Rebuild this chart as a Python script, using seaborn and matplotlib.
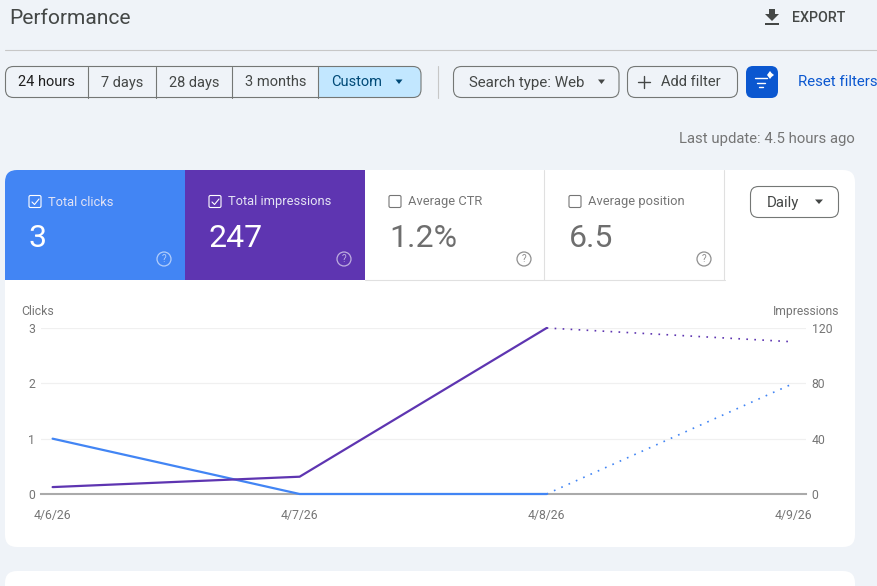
import matplotlib
matplotlib.use("Agg")
import matplotlib.pyplot as plt
from matplotlib.patches import FancyBboxPatch, Rectangle, Circle, Polygon
import pandas as pd
import seaborn as sns

# ---- data ----
date_labels = ["4/6/26", "4/7/26", "4/8/26", "4/9/26"]
day_index = [0, 1, 2, 3]
clicks = [1, 0, 0, 2]
impressions = [5, 12.5, 120, 110]
solid_days = 3          # first three days are final data, the rest is dotted (fresh)
click_ticks = [0, 1, 2, 3]
impression_ticks = [0, 40, 80, 120]
range_tabs = ["24 hours", "7 days", "28 days", "3 months"]
metric_names = ["Total clicks", "Total impressions", "Average CTR", "Average position"]
metric_values = ["3", "247", "1.2%", "6.5"]

# ---- style ----
sns.set_theme(style="white")
plt.rcParams["font.family"] = ["Roboto", "DejaVu Sans"]
BG = "#eff3f8"
BLUE = "#4285f4"
PURPLE = "#5e35b1"
GRID = "#f0f0f0"
AXIS = "#aaaaaa"
MUTED = "#757575"
DARK = "#444746"
BORDER = "#747775"
PX = 0.72  # font points per pixel at dpi 100

W, H = 877, 586
fig = plt.figure(figsize=(W / 100, H / 100), dpi=100, facecolor=BG)
ui = fig.add_axes([0, 0, 1, 1], zorder=0)
ui.set_xlim(0, W)
ui.set_ylim(H, 0)
ui.axis("off")


def rbox(x0, y0, x1, y1, r, fc="none", ec="none", lw=1.0, z=2):
    p = FancyBboxPatch((x0 + r, y0 + r), x1 - x0 - 2 * r, y1 - y0 - 2 * r,
                       boxstyle=f"round,pad={r},rounding_size={r}",
                       fc=fc, ec=ec, lw=lw, zorder=z)
    ui.add_patch(p)
    return p


def label(x, y, s, size, color=DARK, ha="left", weight="normal", z=5, **kw):
    ui.text(x, y, s, fontsize=size * PX, color=color, ha=ha, va="center",
            fontweight=weight, zorder=z, **kw)


def caret(cx, cy, color=DARK, half=4):
    ui.add_patch(Polygon([(cx - half, cy - 2), (cx + half, cy - 2), (cx, cy + 2.5)],
                         fc=color, ec="none", zorder=5))


# header
label(9, 18.5, "Performance", 21, DARK)
label(792, 17.5, "EXPORT", 14.3, DARK, weight="medium")
ui.add_patch(Polygon([(769, 9), (775, 9), (775, 14), (779, 14), (772, 21), (765, 14), (769, 14)],
                     fc=DARK, ec="none", zorder=5))
ui.add_patch(Rectangle((765, 22.5), 14, 2, fc=DARK, ec="none", zorder=5))
ui.plot([5, W], [49.5, 49.5], color="#c7c7c7", lw=0.8, zorder=2)

# segmented range control
seg = rbox(5.5, 66.5, 421, 97.5, 8, fc="none", ec=BORDER, lw=0.8, z=4)
fill = Rectangle((318.5, 66.5), 103, 31, fc="#c2e7ff", ec="none", zorder=3)
ui.add_patch(fill)
fill.set_clip_path(seg)
for xd in [88, 156, 232, 318]:
    ui.plot([xd, xd], [66.5, 97.5], color=BORDER, lw=0.8, zorder=4)
for xc, s, col in zip([46.5, 122, 194.5, 275.5], range_tabs, ["#1f1f1f", DARK, DARK, DARK]):
    label(xc, 82.5, s, 14.6, col, ha="center")
label(331, 82.5, "Custom", 14.6, "#004a77")
caret(399, 81.5, "#004a77", 3.5)
ui.plot([437.5, 437.5], [66, 98], color="#c7c7c7", lw=0.8, zorder=2)

# filters
rbox(453.5, 66.5, 619, 97.5, 8, ec=BORDER, lw=0.8)
label(469, 82.5, "Search type: Web", 15.1, DARK)
caret(601.5, 81.5, DARK, 3.5)
rbox(627.5, 66.5, 737.5, 97.5, 8, ec=BORDER, lw=0.8)
ui.plot([638, 650], [82, 82], color=DARK, lw=1.0, zorder=5)
ui.plot([644, 644], [76, 88], color=DARK, lw=1.0, zorder=5)
label(661, 82.5, "Add filter", 14.8, DARK)
rbox(746, 66, 778, 98, 7, fc="#0b57d0")
for yy, x0, x1 in [(78, 755, 767), (82.5, 757, 765), (87, 759, 763)]:
    ui.plot([x0, x1], [yy, yy], color="white", lw=1.0, zorder=5)
ui.add_patch(Polygon([(767, 75), (768.5, 73), (770, 71), (771.5, 73), (774, 75),
                      (771.5, 77), (770, 79), (768.5, 77)], fc="white", ec="none", zorder=5))
label(798, 82.5, "Reset filters", 15, "#0b57d0")
label(855, 138.5, "Last update: 4.5 hours ago", 14.9, MUTED, ha="right")

# cards
rbox(5, 170, 855, 547, 12, fc="white", z=1)
rbox(5, 571, 855, 640, 12, fc="white", z=1)
ui.set_ylim(H, 0)

# metric tiles
tile_x = [5, 185, 365, 545]
tile_bg = [BLUE, PURPLE, None, None]
clip_card = FancyBboxPatch((17, 182), 826, 353, boxstyle="round,pad=12,rounding_size=12",
                           fc="none", ec="none", transform=ui.transData)
ui.add_patch(clip_card)
for x0, bg, name, val in zip(tile_x, tile_bg, metric_names, metric_values):
    on = bg is not None
    if on:
        r = Rectangle((x0, 170), 180, 110, fc=bg, ec="none", zorder=2)
        ui.add_patch(r)
        r.set_clip_path(clip_card)
    fg = "white" if on else MUTED
    ui.add_patch(FancyBboxPatch((x0 + 24.5, 196), 11, 11,
                                boxstyle="round,pad=0.5,rounding_size=1.5",
                                fc="none", ec=fg, lw=0.8, zorder=5))
    if on:
        ui.plot([x0 + 27, x0 + 29.5, x0 + 34], [202, 204.5, 199], color="white", lw=0.8, zorder=5)
    label(x0 + 43, 202, name, 12.9, "#e4e4f4" if on else MUTED)
    label(x0 + 24, 238.5, val, 32, "white" if on else "#6e6e6e")
    hc = "#ffffff99" if on else "#8f8f8f"
    ui.add_patch(Circle((x0 + 159, 259), 7, fc="none", ec=hc, lw=0.9, zorder=5))
    label(x0 + 159, 259.5, "?", 10, hc, ha="center")
ui.plot([365, 724.5], [280, 280], color="#e0e0e0", lw=0.8, zorder=2)
for xd in [544, 724]:
    ui.plot([xd, xd], [170, 280], color="#e0e0e0", lw=0.8, zorder=2)

# Daily dropdown
rbox(750.5, 186.5, 838.5, 217.5, 8, ec=BORDER, lw=0.8)
label(767, 202.5, "Daily", 15, DARK)
caret(819, 201.5, DARK, 4)

# axis titles
label(21, 311.5, "Clicks", 12.2, MUTED)
label(839, 311.5, "Impressions", 12.1, MUTED, ha="right")

# ---- chart ----
L, R, T, B = 41, 806, 328, 494
ax = fig.add_axes([L / W, 1 - B / H, (R - L) / W, (B - T) / H], zorder=2)
ax.patch.set_alpha(0)
ax2 = ax.twinx()
ax2.patch.set_alpha(0)

df = pd.DataFrame({"day": day_index, "clicks": clicks, "impressions": impressions})
solid = df.iloc[:solid_days]
fresh = df.iloc[solid_days - 1:]
dots = (0, (1, 3.8))

sns.lineplot(data=solid, x="day", y="clicks", ax=ax, color=BLUE, lw=1.6, clip_on=False, zorder=4)
sns.lineplot(data=fresh, x="day", y="clicks", ax=ax, color=BLUE, lw=1.2, linestyle=dots, clip_on=False, zorder=4)
sns.lineplot(data=solid, x="day", y="impressions", ax=ax2, color=PURPLE, lw=1.6, clip_on=False, zorder=4)
sns.lineplot(data=fresh, x="day", y="impressions", ax=ax2, color=PURPLE, lw=1.2, linestyle=dots, clip_on=False, zorder=4)

ax.set_xlim(-0.047, 3.05)
ax.set_ylim(0, 3)
ax2.set_ylim(0, 120)
ax.set_xticks(day_index)
ax.set_xticklabels(date_labels)
ax.set_yticks(click_ticks)
ax2.set_yticks(impression_ticks)
ax.set_xlabel("")
ax.set_ylabel("")
ax2.set_ylabel("")
ax.grid(axis="y", color=GRID, lw=0.9)
ax.grid(axis="x", visible=False)
ax2.grid(False)
ax.set_axisbelow(True)
for a in (ax, ax2):
    for side, sp in a.spines.items():
        sp.set_visible(False)
ax.spines["bottom"].set_visible(True)
ax.spines["bottom"].set_color(AXIS)
ax.spines["bottom"].set_linewidth(1.5)
ax.spines["bottom"].set_zorder(1)
ax.tick_params(axis="x", length=0, pad=11, labelsize=12.3 * PX, labelcolor=MUTED)
ax.tick_params(axis="y", length=0, pad=4.2, labelsize=12.3 * PX, labelcolor=MUTED)
ax2.tick_params(axis="y", length=0, pad=4.2, labelsize=12.3 * PX, labelcolor=MUTED)

fig.savefig("out.png", dpi=100, facecolor=BG)
